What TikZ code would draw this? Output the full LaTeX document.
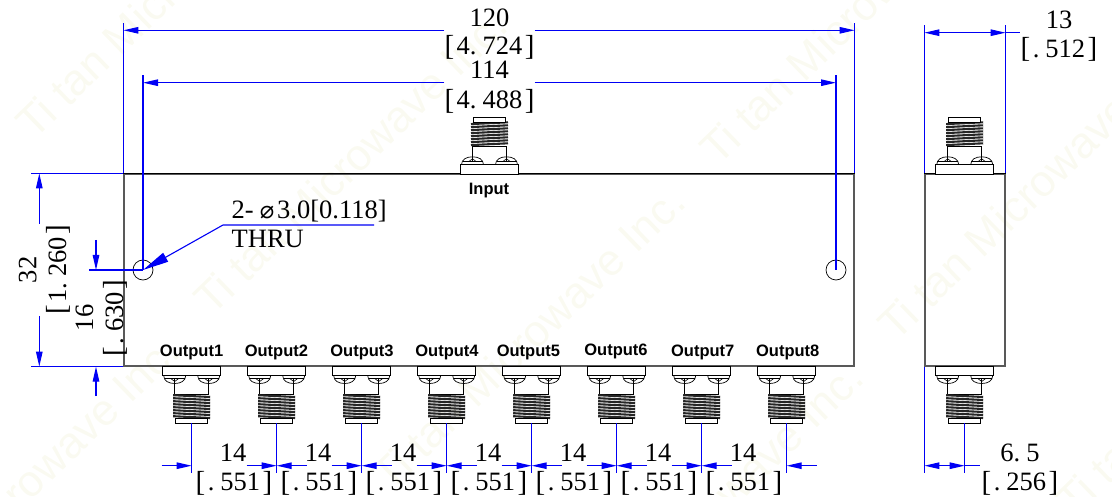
\documentclass[tikz,border=0pt]{standalone}
\usepackage{fontspec}
\setmainfont{Liberation Serif}
\newfontfamily\labelfont{Liberation Sans}
\newfontfamily\symfont{DejaVu Sans}
\usetikzlibrary{arrows.meta}
\definecolor{dimblue}{RGB}{0,0,245}
\definecolor{markpale}{RGB}{250,250,241}
\newcommand{\bigbr}[1]{{\fontsize{29bp}{29bp}\selectfont\raisebox{-.4bp}{#1}}}
\newcommand{\inchdim}[2]{\bigbr{[}\kern2.5bp #1.\kern6bp #2\kern2.5bp\bigbr{]}}
\tikzset{
    dimtext/.style={%
        anchor=base, inner sep=0pt,
        font=\fontsize{26.5bp}{28bp}\selectfont
        },
    dimline/.style={draw=dimblue, line width=1.1bp},
    portlabel/.style={%
        anchor=base, inner sep=0pt,
        font=\fontsize{16.5bp}{18bp}\selectfont\labelfont\bfseries
        },
    housing/.style={%
        draw=black!65, line width=1.2bp, inner sep=0pt
        },
    hole/.style={%
        draw, circle, inner sep=0pt, minimum size=20bp, line width=.7bp
        },
    watermark/.style={%
        anchor=base west, inner sep=0pt, rotate=44, text=markpale,
        font=\fontsize{44bp}{46bp}\selectfont\labelfont
        },
    >={Triangle[length=15bp,width=6.5bp]},
    port/.pic={
        \draw[line width=.8bp, fill=white] (-29,0) rectangle (29,9.5);
        \foreach \s in {-17,17}{
            \draw[line width=.7bp] ({\s-11},9.5) .. controls ({\s-11},15) and ({\s-6},17.5) .. (\s,17.5)
                .. controls ({\s+6},17.5) and ({\s+11},15) .. ({\s+11},9.5);
            \draw[line width=.6bp] ({\s-10},12.5) -- ({\s+10},12.5);
            \draw[line width=.6bp] ({\s-4},12.5) -- (\s,15.5) -- ({\s+4},12.5);
            \draw[line width=.8bp] (\s,12.5) -- (\s,28);
        }
        \draw[line width=.8bp] (-17,28) -- (17,28);
        \foreach \t in {0,...,7}{
            \draw[line width=2.1bp, black!85] (-18.5,{29.2+3*\t}) -- (18.5,{31+3*\t});
        }
        \draw[line width=.8bp, fill=white] (-16,52) rectangle (16,57);
        \coordinate (-tip) at (0,57);
    }
}

\begin{document}
\begin{tikzpicture}[x=1bp,y=-1bp]

\useasboundingbox (0,0) rectangle (1112,497);

\foreach \wx/\wy [count=\k] in {34/141,212/317,390/493,718/167,896/343,1074/519,-116/643,568/669}{
    \node[watermark] (Mark\k) at (\wx,\wy) {Ti tan Microwave Inc.};
}

% bodies
\node[housing, minimum width=730bp, minimum height=192bp] (Body) at (489,270) {};
\node[housing, minimum width=80bp, minimum height=192bp] (Side) at (965,270) {};
\draw[line width=1bp] (Body.north west) -- (Body.north east);
\draw[line width=1bp] (Side.north west) -- (Side.north east);

\node[hole] (HoleL) at (143,270) {};
\node[hole] (HoleR) at (836,270) {};

% connectors
\pic[yscale=-1] (In) at (489.5,174.3) {port};
\pic[yscale=-1] (SideIn) at (964.7,174.3) {port};
\pic (SideOut) at (964.7,366) {port};
\foreach \i [evaluate=\i as \x using 191.7+85*(\i-1)] in {1,...,8}{
    \pic (Out\i) at (\x,366) {port};
}

\node[portlabel] (InLabel) at (489,195) {Input};
\foreach \i/\lx/\ly in {1/191.6/357,2/276.4/357,3/362/357,4/447/357,5/528.4/357,6/616/356,7/702.7/357,8/787.7/357}{
    \node[portlabel] (OutLabel\i) at (\lx,\ly) {Output\i};
}

% top dimensions
\coordinate (Top120) at (0,23);
\coordinate (Top114) at (0,75);
\coordinate (Top13) at (0,25);
\coordinate (Line120) at (0,30.3);
\coordinate (Line114) at (0,82.7);
\coordinate (Line13) at (0,32.7);

\node[dimtext] (W120) at (489.5,27) {120};
\node[dimtext] (W120in) at (489.5,55) {\inchdim{4}{724}};
\node[dimtext] (W114) at (489.5,79) {114};
\node[dimtext] (W114in) at (489.5,108.7) {\inchdim{4}{488}};
\node[dimtext] (T13) at (1059,28.5) {13};
\node[dimtext] (T13in) at (1059,57.5) {\inchdim{}{512}};

\draw[dimline] (Body.north west) -- (Body.north west |- Top120);
\draw[dimline] (Body.north east) -- (Body.north east |- Top120);
\draw[dimline] (HoleL.center) -- (HoleL.center |- Top114);
\draw[dimline] (HoleR.center) -- (HoleR.center |- Top114);
\draw[dimline] (Side.north west) -- (Side.north west |- Top13);
\draw[dimline] (Side.north east) -- (Side.north east |- Top13);

\draw[dimline, ->] (W120in.west |- Line120) -- (Body.north west |- Line120);
\draw[dimline, ->] (W120in.east |- Line120) -- (Body.north east |- Line120);
\draw[dimline, ->] (W114in.west |- Line114) -- (HoleL.center |- Line114);
\draw[dimline, ->] (W114in.east |- Line114) -- (HoleR.center |- Line114);
\draw[dimline, <->] (Side.north west |- Line13) -- (Side.north east |- Line13);
\draw[dimline] (Side.north east |- Line13) -- (T13in.west |- Line13);

% left dimensions
\coordinate (Left32) at (31,0);
\coordinate (Left16) at (88.5,0);
\coordinate (Line32) at (39.3,0);
\coordinate (Line16) at (96,0);
\coordinate (Tail16a) at (0,240);
\coordinate (Tail16b) at (0,396);

\node[dimtext, rotate=90] (H32) at (36.4,270) {32};
\node[dimtext, rotate=90] (H32in) at (66,270) {\inchdim{1}{260}};
\node[dimtext, rotate=90] (H16) at (93,318) {16};
\node[dimtext, rotate=90] (H16in) at (123,318) {\inchdim{}{630}};

\draw[dimline] (Body.north west) -- (Left32 |- Body.north west);
\draw[dimline] (Body.south west) -- (Left32 |- Body.south west);
\draw[dimline] (HoleL.center) -- (Left16 |- HoleL.center);

\draw[dimline, ->] (Line32 |- 0,224) -- (Line32 |- Body.north west);
\draw[dimline, ->] (Line32 |- 0,316) -- (Line32 |- Body.south west);
\draw[dimline, ->] (Line16 |- Tail16a) -- (Line16 |- HoleL.center);
\draw[dimline, ->] (Line16 |- Tail16b) -- (Line16 |- Body.south west);

% hole note
\coordinate (LeadA) at (223,225);
\coordinate (LeadB) at (374,225);
\node[dimtext, anchor=base west] (Note) at (231.5,218.3) {2-\kern6bp{\symfont\fontsize{24bp}{24bp}\selectfont ⌀}\kern3bp 3.0[0.118]};
\node[dimtext, anchor=base west] (NoteB) at (231.5,247.7) {THRU};
\draw[dimline, {Triangle[length=26bp,width=10bp]}-] (HoleL.center) -- (LeadA) -- (LeadB);

% bottom dimensions
\coordinate (LineB) at (0,465.7);
\coordinate (EndB) at (0,473);

\foreach \i in {1,...,8}{
    \draw[dimline] (Out\i-tip) -- (Out\i-tip |- EndB);
}
\foreach \i [evaluate=\i as \wx using 233+85*(\i-1), evaluate=\i as \next using int(\i+1)] in {1,...,7}{
    \node[dimtext] (S\i) at (\wx,461.7) {14};
    \node[dimtext] (S\i in) at (\wx+1,490.7) {\inchdim{}{551}};
    \draw[dimline, ->] ([xshift=-30bp]Out\i-tip |- LineB) -- (Out\i-tip |- LineB);
    \draw[dimline, ->] ([xshift=30bp]Out\next-tip |- LineB) -- (Out\next-tip |- LineB);
}

\node[dimtext] (T65) at (1020,461.7) {6.\kern6bp 5};
\node[dimtext] (T65in) at (1020,490.7) {\inchdim{}{256}};
\draw[dimline] (Side.south west) -- (Side.south west |- EndB);
\draw[dimline] (SideOut-tip) -- (SideOut-tip |- EndB);
\draw[dimline, <->] (Side.south west |- LineB) -- (SideOut-tip |- LineB);
\draw[dimline] (SideOut-tip |- LineB) -- ([xshift=15bp]SideOut-tip |- LineB);

\end{tikzpicture}
\end{document}
